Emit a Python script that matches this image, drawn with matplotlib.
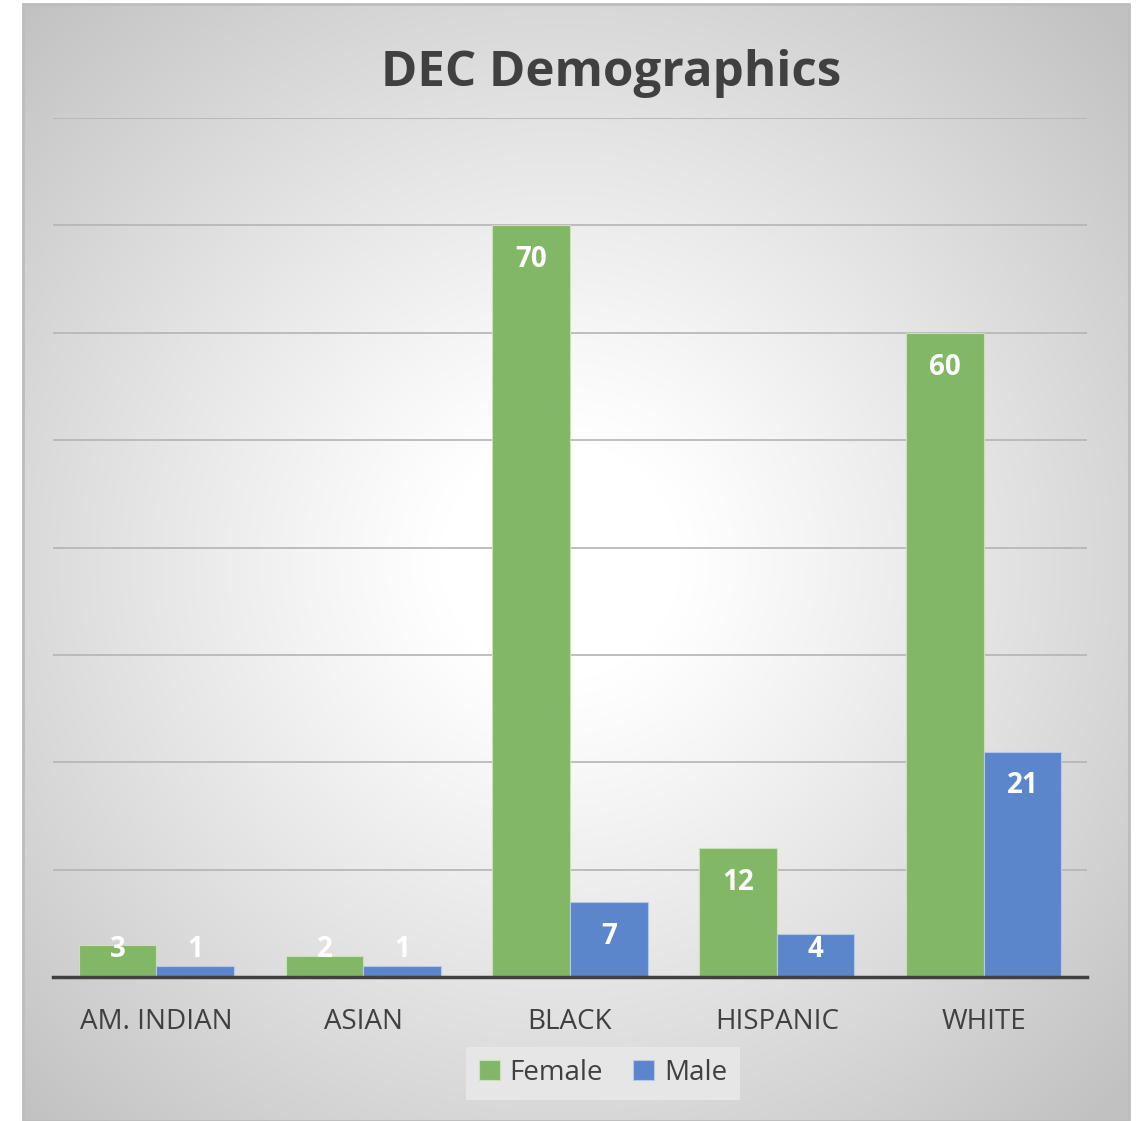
import numpy as np
import matplotlib
matplotlib.use("Agg")
import matplotlib.pyplot as plt
from matplotlib.patches import Rectangle

plt.rcParams['font.family'] = ['Open Sans', 'DejaVu Sans']

categories = ["AM. INDIAN", "ASIAN", "BLACK", "HISPANIC", "WHITE"]
female = [3, 2, 70, 12, 60]
male = [1, 1, 7, 4, 21]
series_names = ["Female", "Male"]
colors = ["#82b865", "#5b86cc"]

W, H = 1137, 1121
fig = plt.figure(figsize=(W / 100, H / 100), dpi=100)

# background panel with radial gradient
bl, br, bt, bb = 23, 1129, 4, 1121
bg = fig.add_axes([bl / W, 0, (br - bl) / W, (bb - bt) / H])
yy, xx = np.mgrid[bt:bb, bl:br]
r = np.hypot(xx - 560, yy - 560)
t = np.clip((r - 120) / 650, 0, 1) ** 1.1
val = 1.0 - 0.24 * t
img = np.dstack([val, val, val])
bg.imshow(img, aspect='auto', extent=[0, 1, 0, 1], interpolation='bilinear')
bg.set_xlim(0, 1)
bg.set_ylim(0, 1)
bg.axis('off')
bg.add_patch(Rectangle((0, 0), 1, 1, transform=bg.transAxes, fill=False,
                       edgecolor='#bdbdbd', lw=2, clip_on=False))

ax = fig.add_axes([53 / W, 1 - 977 / H, (1087 - 53) / W, (977 - 118) / H])
ax.patch.set_alpha(0)

x = np.arange(len(categories))
w = 0.375
b1 = ax.bar(x - w / 2, female, w, color=colors[0], edgecolor='#c9e0bb', linewidth=0.8,
            label=series_names[0], zorder=3)
b2 = ax.bar(x + w / 2, male, w, color=colors[1], edgecolor='#b5c8ea', linewidth=0.8,
            label=series_names[1], zorder=3)

for bars, vals in ((b1, female), (b2, male)):
    for rect, v in zip(bars, vals):
        ax.text(rect.get_x() + rect.get_width() / 2, max(v - 3.2, 2.6), str(v),
                ha='center', va='center', color='white', fontsize=20,
                fontweight='bold', zorder=4)

ax.set_xlim(-0.5, len(categories) - 0.5)
ax.set_ylim(0, 80)
ax.set_yticks(np.arange(0, 81, 10))
ax.yaxis.grid(True, color='#b4b4b4', lw=1.2, zorder=0)
ax.tick_params(axis='y', length=0, labelleft=False)
ax.set_xticks(x)
ax.set_xticklabels(categories, fontsize=20, color='#404040')
ax.tick_params(axis='x', length=0, pad=22)
for s in ['top', 'right', 'left']:
    ax.spines[s].set_visible(False)
ax.spines['bottom'].set_color('#404040')
ax.spines['bottom'].set_linewidth(2.5)
ax.spines['bottom'].set_zorder(5)

fig.text(611 / W, 1 - 73 / H, "DEC Demographics", ha='center', va='center',
         fontsize=35.5, fontweight='bold', color='#404040')

leg = fig.legend(handles=[b1, b2], loc='center', bbox_to_anchor=(603 / W, 1 - 1073 / H),
                 ncol=2, frameon=True, fontsize=20, handlelength=0.75, handleheight=0.75,
                 handletextpad=0.35, columnspacing=1.1, borderpad=0.45, fancybox=False)
leg.get_frame().set_facecolor('#e8e8e8')
leg.get_frame().set_edgecolor('none')
leg.get_frame().set_alpha(0.9)
for txt in leg.get_texts():
    txt.set_color('#404040')

fig.savefig("out.png", dpi=100)
